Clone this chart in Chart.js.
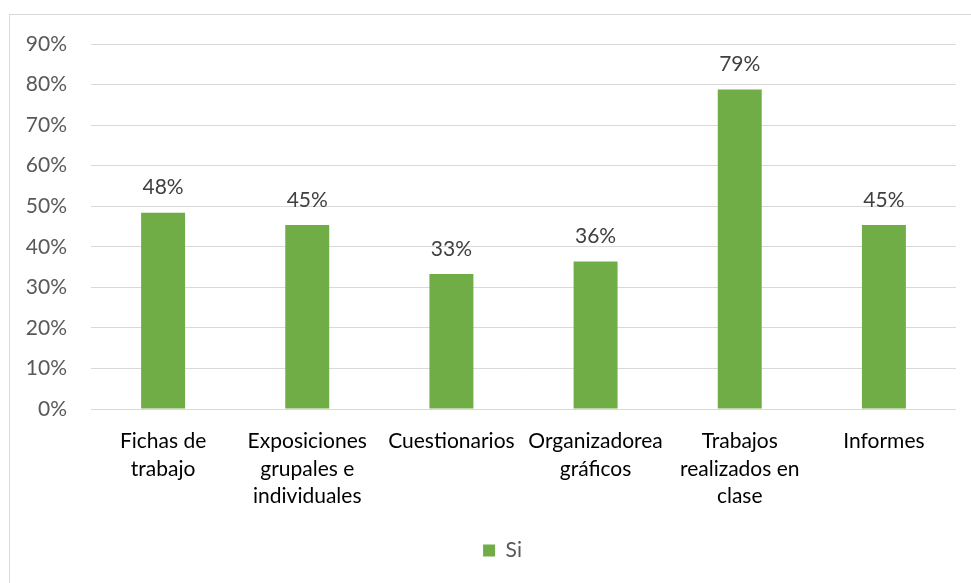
<!DOCTYPE html>
<html>
<head>
<meta charset="utf-8">
<script src="https://cdn.jsdelivr.net/npm/chart.js@4"></script>
<style>
  html, body { margin: 0; padding: 0; background: #fff; }
  #frame { position: absolute; left: 9px; top: 14px; width: 980px; height: 600px; border: 1px solid #d9d9d9; box-sizing: border-box; }
  #wrap { position: absolute; left: 0; top: 0; width: 971px; height: 583px; }
</style>
</head>
<body>
<div id="frame"></div>
<div id="wrap"><canvas id="chart" width="971" height="583"></canvas></div>
<script>
const categories = [
  ["Fichas de", "trabajo"],
  ["Exposiciones", "grupales e", "individuales"],
  "Cuestionarios",
  ["Organizadorea", "gráficos"],
  ["Trabajos", "realizados en", "clase"],
  "Informes"
];
const siValues = [48.4, 45.4, 33.3, 36.4, 78.8, 45.4];
const yTicks = [0, 10, 20, 30, 40, 50, 60, 70, 80, 90];

const fontFamily = "Lato, 'Open Sans', sans-serif";

// etiquetas de datos encima de cada barra
const barLabels = {
  id: "barLabels",
  afterDatasetsDraw(chart) {
    const ctx = chart.ctx;
    ctx.save();
    ctx.font = "21px " + fontFamily;
    ctx.fillStyle = "#404040";
    ctx.textAlign = "center";
    ctx.textBaseline = "middle";
    chart.getDatasetMeta(0).data.forEach((bar, i) => {
      ctx.fillText(Math.round(siValues[i]) + "%", bar.x, bar.y - 25);
    });
    ctx.restore();
  }
};

// la leyenda del original esta un poco a la derecha del centro
const legendShift = {
  id: "legendShift",
  afterLayout(chart) {
    chart.legend.left += 20;
    chart.legend.right += 20;
  }
};

new Chart(document.getElementById("chart"), {
  type: "bar",
  data: {
    labels: categories,
    datasets: [{
      label: "Si",
      data: siValues,
      backgroundColor: "#70ad47",
      barPercentage: 0.305,
      categoryPercentage: 1
    }]
  },
  options: {
    responsive: false,
    animation: false,
    layout: { padding: { left: 9, right: 15, top: 44, bottom: 12 } },
    scales: {
      y: {
        min: 0,
        max: 90,
        afterBuildTicks(scale) { scale.ticks = yTicks.map(v => ({ value: v })); },
        afterFit(scale) { scale.width = 82; },
        border: { display: false },
        grid: { color: "#d9d9d9", lineWidth: 1, drawTicks: false },
        ticks: {
          padding: 24,
          color: "#595959",
          font: { size: 21, family: fontFamily },
          callback: v => v + "%"
        }
      },
      x: {
        afterFit(scale) { scale.height = 125; },
        border: { display: false },
        grid: { display: false, drawTicks: false },
        ticks: {
          padding: 19,
          color: "#000000",
          maxRotation: 0,
          autoSkip: false,
          font: { size: 21, family: fontFamily, lineHeight: 1.3 }
        }
      }
    },
    plugins: {
      legend: {
        position: "bottom",
        labels: {
          boxWidth: 12,
          boxHeight: 12,
          padding: 6,
          color: "#595959",
          font: { size: 21, family: fontFamily }
        }
      },
      tooltip: { enabled: false }
    }
  },
  plugins: [barLabels, legendShift]
});
</script>
</body>
</html>
